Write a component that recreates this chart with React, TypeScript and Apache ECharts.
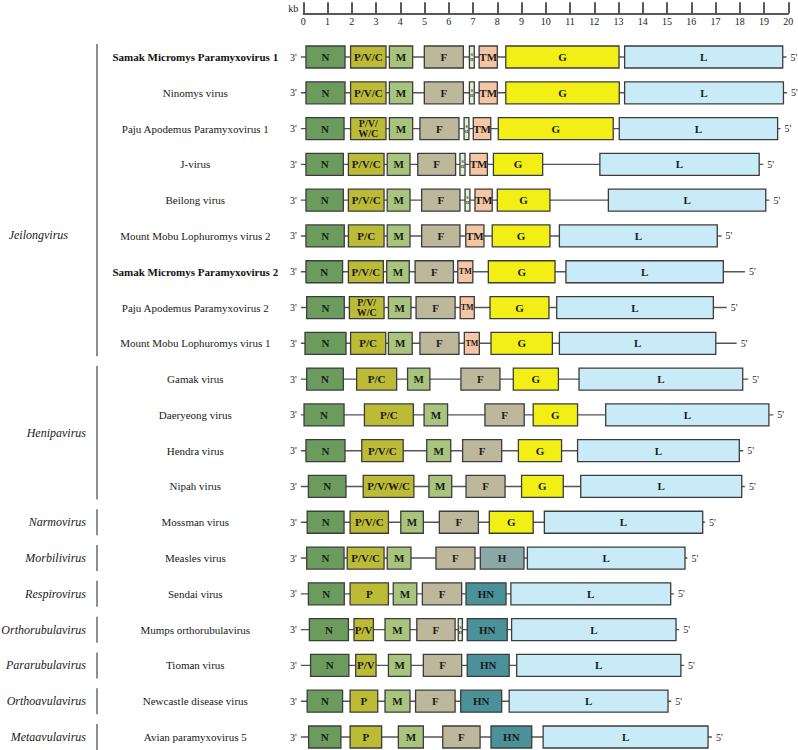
import React, { useEffect, useRef } from "react";
import * as echarts from "echarts";

const viruses = [
  "Samak Micromys Paramyxovirus 1",
  "Ninomys virus",
  "Paju Apodemus Paramyxovirus 1",
  "J-virus",
  "Beilong virus",
  "Mount Mobu Lophuromys virus 2",
  "Samak Micromys Paramyxovirus 2",
  "Paju Apodemus Paramyxovirus 2",
  "Mount Mobu Lophuromys virus 1",
  "Gamak virus",
  "Daeryeong virus",
  "Hendra virus",
  "Nipah virus",
  "Mossman virus",
  "Measles virus",
  "Sendai virus",
  "Mumps orthorubulavirus",
  "Tioman virus",
  "Newcastle disease virus",
  "Avian paramyxovirus 5",
];
const novelViruses = ["Samak Micromys Paramyxovirus 1", "Samak Micromys Paramyxovirus 2"];

const genera = [
  { name: "Jeilongvirus", from: 0, to: 8 },
  { name: "Henipavirus", from: 9, to: 12 },
  { name: "Narmovirus", from: 13, to: 13 },
  { name: "Morbilivirus", from: 14, to: 14 },
  { name: "Respirovirus", from: 15, to: 15 },
  { name: "Orthorubulavirus", from: 16, to: 16 },
  { name: "Pararubulavirus", from: 17, to: 17 },
  { name: "Orthoavulavirus", from: 18, to: 18 },
  { name: "Metaavulavirus", from: 19, to: 19 },
];

// gene name, start (kb), end (kb)
const samak1 = [["N", 0.11, 1.72], ["P/V/C", 1.95, 3.41], ["M", 3.55, 4.51], ["F", 4.99, 6.6], ["SH", 6.85, 7.05], ["TM", 7.25, 8.0], ["G", 8.35, 13.02], ["L", 13.25, 19.77]];
const ninomys = [["N", 0.11, 1.72], ["P/V/C", 1.95, 3.41], ["M", 3.55, 4.51], ["F", 4.99, 6.6], ["SH", 6.85, 7.05], ["TM", 7.25, 8.0], ["G", 8.35, 13.03], ["L", 13.25, 19.8]];
const paju1 = [["N", 0.11, 1.68], ["P/V/W/C", 1.95, 3.41], ["M", 3.55, 4.51], ["F", 4.81, 6.42], ["SH", 6.63, 6.83], ["TM", 7.01, 7.73], ["G", 8.04, 12.78], ["L", 13.03, 19.56]];
const jVirus = [["N", 0.11, 1.65], ["P/V/C", 1.86, 3.33], ["M", 3.46, 4.4], ["F", 4.72, 6.28], ["SH", 6.46, 6.67], ["TM", 6.87, 7.59], ["G", 7.84, 9.87], ["L", 12.23, 18.8]];
const beilong = [["N", 0.11, 1.65], ["P/V/C", 1.86, 3.33], ["M", 3.46, 4.4], ["F", 4.88, 6.46], ["SH", 6.67, 6.87], ["TM", 7.08, 7.79], ["G", 8.0, 10.17], ["L", 12.58, 19.07]];
const mobu2 = [["N", 0.11, 1.69], ["P/C", 1.86, 3.33], ["M", 3.46, 4.4], ["F", 4.88, 6.46], ["TM", 6.7, 7.45], ["G", 7.79, 10.17], ["L", 10.56, 17.07]];
const samak2 = [["N", 0.11, 1.62], ["P/V/C", 1.86, 3.3], ["M", 3.44, 4.37], ["F", 4.61, 6.19], ["TM", 6.37, 6.99], ["G", 7.63, 10.38], ["L", 10.83, 17.32]];
const paju2 = [["N", 0.14, 1.69], ["P/V/W/C", 1.9, 3.33], ["M", 3.51, 4.44], ["F", 4.65, 6.26], ["TM", 6.47, 7.05], ["G", 7.7, 10.13], ["L", 10.45, 16.91]];
const mobu1 = [["N", 0.07, 1.76], ["P/C", 1.95, 3.4], ["M", 3.51, 4.49], ["F", 4.81, 6.42], ["TM", 6.64, 7.26], ["G", 7.74, 10.27], ["L", 10.56, 17.01]];
const gamak = [["N", 0.14, 1.65], ["P/C", 2.2, 3.85], ["M", 4.3, 5.22], ["F", 6.5, 8.11], ["G", 8.66, 10.52], ["L", 11.37, 18.12]];
const daeryeong = [["N", 0.03, 1.68], ["P/C", 2.52, 4.54], ["M", 4.98, 5.95], ["F", 7.49, 9.11], ["G", 9.48, 11.31], ["L", 12.47, 19.2]];
const hendra = [["N", 0.11, 1.72], ["P/V/C", 2.41, 4.12], ["M", 5.09, 6.08], ["F", 6.57, 8.18], ["G", 8.87, 10.65], ["L", 11.31, 17.98]];
const nipah = [["N", 0.21, 1.76], ["P/V/W/C", 2.47, 4.56], ["M", 5.18, 6.12], ["F", 6.71, 8.32], ["G", 9.0, 10.72], ["L", 11.44, 18.08]];
const mossman = [["N", 0.16, 1.68], ["P/V/C", 1.93, 3.51], ["M", 4.02, 4.95], ["F", 5.61, 7.22], ["G", 7.67, 9.48], ["L", 9.94, 16.47]];
const measles = [["N", 0.14, 1.68], ["P/V/C", 1.81, 3.33], ["M", 3.46, 4.44], ["F", 5.47, 7.08], ["H", 7.3, 9.1], ["L", 9.24, 15.74]];
const sendai = [["N", 0.21, 1.69], ["P", 1.93, 3.51], ["M", 3.71, 4.68], ["F", 4.91, 6.53], ["HN", 6.71, 8.36], ["L", 8.56, 15.15]];
const mumps = [["N", 0.25, 1.86], ["P/V", 2.09, 2.89], ["M", 3.37, 4.4], ["F", 4.68, 6.26], ["SH", 6.39, 6.56], ["HN", 6.76, 8.41], ["L", 8.59, 15.37]];
const tioman = [["N", 0.3, 1.88], ["P/V", 2.16, 3.0], ["M", 3.51, 4.44], ["F", 4.95, 6.53], ["HN", 6.76, 8.49], ["L", 8.8, 15.57]];
const newcastle = [["N", 0.16, 1.62], ["P", 1.93, 3.07], ["M", 3.37, 4.4], ["F", 4.63, 6.26], ["HN", 6.49, 8.18], ["L", 8.49, 15.04]];
const avian5 = [["N", 0.22, 1.55], ["P", 1.93, 3.23], ["M", 3.92, 4.95], ["F", 5.75, 7.29], ["HN", 7.74, 9.42], ["L", 9.89, 16.69]];

const genomes = [samak1, ninomys, paju1, jVirus, beilong, mobu2, samak2, paju2, mobu1, gamak, daeryeong, hendra, nipah, mossman, measles, sendai, mumps, tioman, newcastle, avian5];

// 3' start and 5' end of the genome backbone (kb)
const genomeStart = -0.1;
const genomeEnds = [19.93, 19.95, 19.68, 18.97, 19.22, 17.25, 18.21, 17.46, 17.87, 18.35, 19.38, 18.14, 18.21, 16.56, 15.84, 15.29, 15.5, 15.7, 15.17, 16.85];

const kbRange = [0, 20];

const geneColors: Record<string, string> = {
  N: "#6b9c5e",
  P: "#bcbb36",
  M: "#a9c47c",
  F: "#bdb79b",
  SH: "#dcf3cc",
  TM: "#f4c6a4",
  G: "#f2ef17",
  H: "#89a8a7",
  HN: "#4a9199",
  L: "#c9ebf8",
};

const SERIF = "'Liberation Serif', 'Times New Roman', serif";

function geneKind(name: string) {
  if (name.startsWith("P")) return "P";
  return name;
}

export default function App() {
  const ref = useRef<HTMLDivElement>(null);
  useEffect(() => {
    document.body.style.margin = "0";
    if (!ref.current) return;
    const chart = echarts.init(ref.current, undefined, { renderer: "svg" });

    const geneData: any[] = [];
    genomes.forEach((g, row) => {
      g.forEach((gene) => {
        geneData.push({ value: [gene[1], row, gene[2]], gene: gene[0] });
      });
    });
    const backboneData = genomeEnds.map((end, row) => [genomeStart, row, end]);
    const genusData = genera.map((g) => ({ value: [0, g.from, g.to], name: g.name }));

    const option: any = {
      animation: false,
      grid: { left: 303.3, right: 9.7, top: 57, bottom: 13, containLabel: false },
      xAxis: {
        type: "value",
        min: kbRange[0],
        max: kbRange[1],
        interval: 1,
        position: "top",
        offset: 43.7,
        name: "kb",
        nameLocation: "start",
        nameGap: 5,
        nameTextStyle: { fontFamily: SERIF, fontSize: 10, color: "#222", verticalAlign: "bottom" },
        axisLine: { show: true, lineStyle: { color: "#222", width: 1.5 } },
        axisTick: { show: true, inside: false, length: 11, lineStyle: { color: "#222", width: 1.5 } },
        axisLabel: { inside: true, margin: 3, fontFamily: SERIF, fontSize: 10, color: "#222" },
        splitLine: { show: false },
      },
      yAxis: {
        type: "category",
        data: viruses,
        inverse: true,
        boundaryGap: false,
        axisLine: { show: false },
        axisTick: { show: false },
        splitLine: { show: false },
        axisLabel: {
          interval: 0,
          margin: 108,
          align: "center",
          fontFamily: SERIF,
          fontSize: 11,
          color: "#1a1a1a",
          formatter: (v: string) => (novelViruses.includes(v) ? `{b|${v}}` : v),
          rich: { b: { fontFamily: SERIF, fontSize: 11, fontWeight: "bold", color: "#111" } },
        },
      },
      series: [
        {
          type: "custom",
          name: "backbone",
          coordinateSystem: "cartesian2d",
          encode: { x: [0, 2], y: 1 },
          data: backboneData,
          z: 1,
          renderItem: (params: any, api: any) => {
            const row = api.value(1);
            const s = api.coord([api.value(0), row]);
            const e = api.coord([api.value(2), row]);
            return {
              type: "group",
              children: [
                { type: "line", shape: { x1: s[0], y1: s[1], x2: e[0], y2: e[1] }, style: { stroke: "#555", lineWidth: 1.4 } },
                { type: "text", style: { text: "3'", x: s[0] - 4, y: s[1], align: "right", verticalAlign: "middle", fontFamily: SERIF, fontSize: 10, fill: "#222" } },
                { type: "text", style: { text: "5'", x: e[0] + 4, y: e[1], align: "left", verticalAlign: "middle", fontFamily: SERIF, fontSize: 10, fill: "#222" } },
              ],
            };
          },
        },
        {
          type: "custom",
          name: "genes",
          coordinateSystem: "cartesian2d",
          encode: { x: [0, 2], y: 1 },
          data: geneData,
          z: 2,
          renderItem: (params: any, api: any) => {
            const item = geneData[params.dataIndex];
            const row = api.value(1);
            const s = api.coord([api.value(0), row]);
            const e = api.coord([api.value(2), row]);
            const h = 22;
            const w = e[0] - s[0];
            const name: string = item.gene;
            const kind = geneKind(name);
            let text = name;
            let fontSize = 11;
            let lh = 11;
            if (name === "SH") {
              text = "S\nH";
              fontSize = 4;
              lh = 5;
            } else if (name === "P/V/W/C" && w < 42) {
              text = "P/V/\nW/C";
              fontSize = 10;
              lh = 10;
            } else if (name === "TM" && w < 16) {
              fontSize = 8;
            }
            return {
              type: "group",
              children: [
                {
                  type: "rect",
                  shape: { x: s[0], y: s[1] - h / 2, width: w, height: h },
                  style: { fill: geneColors[kind], stroke: "#3c3c3c", lineWidth: 1.3 },
                },
                {
                  type: "text",
                  style: {
                    text,
                    x: s[0] + w / 2,
                    y: s[1],
                    align: "center",
                    verticalAlign: "middle",
                    fontFamily: SERIF,
                    fontWeight: "bold",
                    fontSize,
                    lineHeight: lh,
                    fill: "#1a1a1a",
                  },
                },
              ],
            };
          },
        },
        {
          type: "custom",
          name: "genus",
          coordinateSystem: "cartesian2d",
          encode: { x: 0, y: [1, 2] },
          data: genusData,
          z: 1,
          renderItem: (params: any, api: any) => {
            const item = genusData[params.dataIndex];
            const a = api.coord([0, api.value(1)]);
            const b = api.coord([0, api.value(2)]);
            const x = 97;
            const multi = api.value(2) > api.value(1) + 4;
            // the large Jeilongvirus label sits lower and further left in the reference
            const ty = multi ? a[1] + (b[1] - a[1]) * 0.62 : (a[1] + b[1]) / 2;
            const tx = multi ? 68 : 86;
            return {
              type: "group",
              children: [
                { type: "line", shape: { x1: x, y1: a[1] - 13, x2: x, y2: b[1] + 13 }, style: { stroke: "#444", lineWidth: 1.2 } },
                {
                  type: "text",
                  style: {
                    text: item.name,
                    x: tx,
                    y: ty,
                    align: "right",
                    verticalAlign: "middle",
                    fontFamily: SERIF,
                    fontStyle: "italic",
                    fontSize: 12,
                    fill: "#1a1a1a",
                  },
                },
              ],
            };
          },
        },
      ],
    };
    chart.setOption(option);
    return () => chart.dispose();
  }, []);
  return <div ref={ref} style={{ width: 798, height: 750 }} />;
}
